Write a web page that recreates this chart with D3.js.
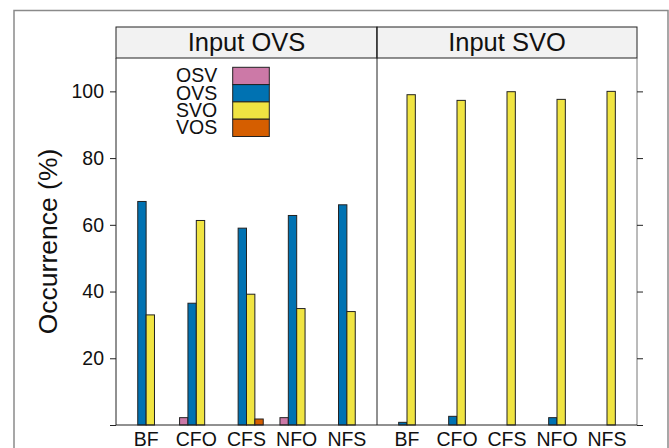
<!DOCTYPE html>
<html><head><meta charset="utf-8">
<script src="https://cdn.jsdelivr.net/npm/d3@7/dist/d3.min.js"></script>
<style>body{margin:0;background:#fff}svg{display:block}text{font-family:"Liberation Sans",Arial,sans-serif}</style>
</head><body>
<svg id="chart" width="669" height="448"></svg>
<script>
// ---- data ----
const categories = ["BF", "CFO", "CFS", "NFO", "NFS"];
const panels = ["Input OVS", "Input SVO"];
const series = ["OSV", "OVS", "SVO", "VOS"];
const colors = ["#CC79A7", "#0072B2", "#F0E442", "#D55E00"];
// Input OVS panel
const ovsOSV = [0, 2.2, 0, 2.2, 0];
const ovsOVS = [67, 36.5, 59, 62.8, 66];
const ovsSVO = [33, 61.3, 39.2, 34.9, 34];
const ovsVOS = [0, 0, 1.8, 0, 0];
// Input SVO panel
const svoOSV = [0, 0, 0, 0, 0];
const svoOVS = [0.8, 2.6, 0, 2.2, 0];
const svoSVO = [99, 97.3, 99.9, 97.6, 100];
const svoVOS = [0, 0, 0, 0, 0];
const yTicks = [0, 20, 40, 60, 80, 100];
const yTickLabels = ["", "20", "40", "60", "80", "100"];
const yLabel = "Occurrence (%)";

const panelData = [
  [ovsOSV, ovsOVS, ovsSVO, ovsVOS],
  [svoOSV, svoOVS, svoSVO, svoVOS]
];

const svg = d3.select("#chart");
// outer frame
svg.append("rect").attr("x", 14).attr("y", 10.5).attr("width", 654).attr("height", 460)
  .attr("fill", "none").attr("stroke", "#8a8a8a").attr("stroke-width", 1.5);

const left = 116, right = 637, mid = 377;
const stripTop = 27, panelTop = 58, panelBottom = 425;

const y = d3.scaleLinear().domain([0, 110]).range([panelBottom, panelTop]);
const panelX = [[left, mid], [mid, right]];

panels.forEach((p, pi) => {
  const [x0, x1] = panelX[pi];
  const x = d3.scaleLinear().domain([0.4, categories.length + 0.6]).range([x0, x1]);
  const step = x(2) - x(1);
  const inner = d3.scaleBand().domain(series).range([-step / 3, step / 3]);
  const g = svg.append("g");
  // strip
  g.append("rect").attr("x", x0).attr("y", stripTop).attr("width", x1 - x0).attr("height", panelTop - stripTop)
    .attr("fill", "#f2f2f2").attr("stroke", "#222").attr("stroke-width", 1);
  g.append("text").attr("x", (x0 + x1) / 2).attr("y", panelTop - 7.5).attr("text-anchor", "middle")
    .attr("font-size", 25.5).attr("fill", "#111").text(p);
  // bars
  series.forEach((s, si) => {
    g.selectAll(null).data(panelData[pi][si]).enter().append("rect")
      .attr("x", (d, i) => x(i + 1) + inner(s))
      .attr("width", inner.bandwidth())
      .attr("y", d => y(d))
      .attr("height", d => y(0) - y(d))
      .attr("fill", colors[si]).attr("stroke", "#222").attr("stroke-width", 1);
  });
  // x labels
  g.selectAll(null).data(categories).enter().append("text")
    .attr("x", (d, i) => x(i + 1)).attr("y", 446).attr("text-anchor", "middle")
    .attr("font-size", 19.5).attr("fill", "#111").text(d => d);
});

// panel borders
svg.append("line").attr("x1", left).attr("x2", left).attr("y1", panelTop).attr("y2", panelBottom).attr("stroke", "#222");
svg.append("line").attr("x1", mid).attr("x2", mid).attr("y1", stripTop).attr("y2", panelBottom).attr("stroke", "#222");
svg.append("line").attr("x1", right).attr("x2", right).attr("y1", panelTop).attr("y2", panelBottom).attr("stroke", "#777");
svg.append("line").attr("x1", left).attr("x2", right).attr("y1", panelBottom).attr("y2", panelBottom).attr("stroke", "#222");

// left axis
const yAxisL = d3.axisLeft(y).tickValues(yTicks).tickSize(6).tickPadding(6)
  .tickFormat((d, i) => yTickLabels[i]);
const gl = svg.append("g").attr("transform", `translate(${left},0)`).call(yAxisL);
gl.select(".domain").remove();
gl.selectAll("line").attr("stroke", "#222");
gl.selectAll("text").attr("font-size", 19.5).attr("fill", "#111").attr("font-family", "Liberation Sans, Arial, sans-serif");
// right axis
const yAxisR = d3.axisRight(y).tickValues(yTicks).tickSize(6).tickFormat("");
const gr = svg.append("g").attr("transform", `translate(${right},0)`).call(yAxisR);
gr.select(".domain").remove();
gr.selectAll("line").attr("stroke", "#222");

// y label
svg.append("text").attr("transform", `translate(57,${(panelTop + panelBottom) / 2}) rotate(-90)`)
  .attr("text-anchor", "middle").attr("font-size", 26.5).attr("fill", "#111").text(yLabel);

// legend
const lg = svg.append("g");
series.forEach((s, i) => {
  const top = 67.3 + i * 17.3;
  lg.append("rect").attr("x", 232.7).attr("y", top).attr("width", 36.6).attr("height", 17.3)
    .attr("fill", colors[i]).attr("stroke", "#222").attr("stroke-width", 1);
  lg.append("text").attr("x", 176).attr("y", top + 15).attr("font-size", 19.5).attr("fill", "#111").text(s);
});
</script>
</body></html>
